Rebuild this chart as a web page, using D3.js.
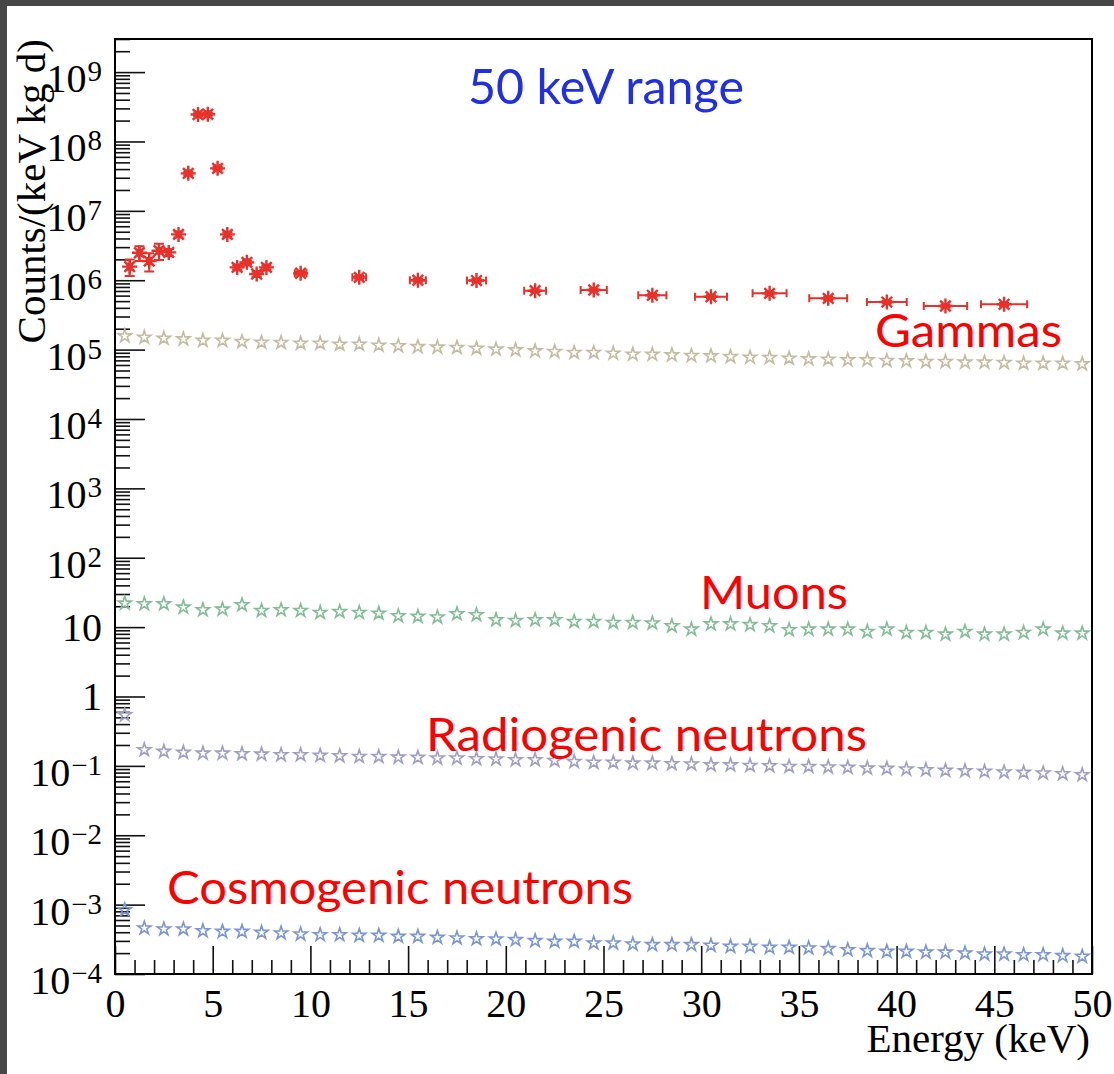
<!DOCTYPE html>
<html>
<head>
<meta charset="utf-8">
<script src="https://cdn.jsdelivr.net/npm/d3@7"></script>
<style>
  body { margin: 0; background: #fff; }
  svg { display: block; }
</style>
</head>
<body>
<svg id="svg" width="1114" height="1074"></svg>
<script>
// bin centres of the simulated spectra (1 keV bins)
var starE = [0.5,1.5,2.5,3.5,4.5,5.5,6.5,7.5,8.5,9.5,10.5,11.5,12.5,13.5,14.5,15.5,16.5,17.5,18.5,19.5,
  20.5,21.5,22.5,23.5,24.5,25.5,26.5,27.5,28.5,29.5,30.5,31.5,32.5,33.5,34.5,35.5,36.5,37.5,38.5,39.5,
  40.5,41.5,42.5,43.5,44.5,45.5,46.5,47.5,48.5,49.5];

var gammaSim = [1.57e5,1.50e5,1.45e5,1.42e5,1.35e5,1.35e5,1.30e5,1.27e5,1.26e5,1.23e5,
  1.23e5,1.19e5,1.19e5,1.15e5,1.13e5,1.10e5,1.08e5,1.07e5,1.04e5,1.01e5,
  9.87e4,9.55e4,9.34e4,9.04e4,9.04e4,8.84e4,8.55e4,8.55e4,8.36e4,8.18e4,
  8.09e4,7.91e4,7.74e4,7.66e4,7.48e4,7.32e4,7.24e4,7.08e4,7.08e4,6.92e4,
  6.85e4,6.70e4,6.70e4,6.56e4,6.56e4,6.48e4,6.34e4,6.34e4,6.34e4,6.20e4];

var muons = [22.1,21.6,21.6,19.3,17.7,18.1,20.9,17.3,17.7,17.3,
  16.2,16.7,16.2,15.8,14.5,14.2,13.9,15.5,15.0,12.7,
  12.4,12.7,12.7,12.0,12.0,11.6,11.6,11.4,10.4,9.31,
  11.1,11.1,10.8,10.4,9.12,9.31,9.31,9.31,8.62,9.31,
  8.34,8.34,7.89,8.62,7.89,7.89,8.34,9.31,8.16,8.16];

var radiogenic = [0.54,0.170,0.161,0.156,0.152,0.152,0.149,0.147,0.144,0.144,
  0.141,0.139,0.136,0.136,0.133,0.132,0.129,0.129,0.126,0.125,
  0.122,0.122,0.119,0.115,0.112,0.112,0.109,0.109,0.107,0.106,
  0.103,0.103,0.101,0.100,0.0977,0.0977,0.0957,0.0946,0.0925,0.0916,
  0.0896,0.0876,0.0857,0.0848,0.0828,0.0811,0.0802,0.0784,0.0767,0.0742];

var cosmogenic = [8.4e-4,4.58e-4,4.43e-4,4.43e-4,4.19e-4,4.10e-4,4.10e-4,3.96e-4,3.88e-4,3.75e-4,
  3.67e-4,3.67e-4,3.59e-4,3.59e-4,3.47e-4,3.47e-4,3.36e-4,3.29e-4,3.21e-4,3.18e-4,
  3.11e-4,3.01e-4,2.94e-4,2.94e-4,2.79e-4,2.79e-4,2.69e-4,2.64e-4,2.64e-4,2.64e-4,
  2.58e-4,2.49e-4,2.49e-4,2.41e-4,2.41e-4,2.36e-4,2.31e-4,2.23e-4,2.16e-4,2.11e-4,
  2.11e-4,2.06e-4,2.06e-4,2.00e-4,1.93e-4,1.93e-4,1.89e-4,1.89e-4,1.83e-4,1.79e-4];

// measured gamma spectrum
var gammaE = [0.75,1.25,1.75,2.25,2.75,3.25,3.75,4.25,4.75,5.25,5.75,6.25,6.75,7.25,7.75,
  9.5,12.5,15.5,18.5,21.5,24.5,27.5,30.5,33.5,36.5,39.5,42.5,45.5];
var gammaV = [1.57e6,2.49e6,1.89e6,2.66e6,2.52e6,4.58e6,3.47e7,2.45e8,2.47e8,4.1e7,4.58e6,1.53e6,1.81e6,1.23e6,1.53e6,
  1.26e6,1.10e6,1.0e6,0.99e6,7.06e5,7.23e5,6.06e5,5.78e5,6.47e5,5.48e5,4.85e5,4.25e5,4.5e5];
var gammaErrY = [0.42e6,0.6e6,0.55e6,0.7e6,0.3e6,0.4e6,2e6,1e7,1e7,2e6,0.3e6,0.1e6,0.1e6,0.1e6,0.1e6,
  0.06e6,0.05e6,0.05e6,0.05e6,0.3e5,0.3e5,0.3e5,0.3e5,0.3e5,0.3e5,0.2e5,0.2e5,0.2e5];
var gammaErrX = [0.1,0.1,0.1,0.1,0.1,0.1,0.1,0.1,0.1,0.1,0.1,0.1,0.1,0.1,0.1,
  0.3,0.35,0.41,0.49,0.56,0.67,0.72,0.82,0.87,0.97,1.02,1.11,1.18];

var xTicks = [0,5,10,15,20,25,30,35,40,45,50];
var yExp = [-4,-3,-2,-1,0,1,2,3,4,5,6,7,8,9];

var series = [
  { vals: gammaSim, color: "#c2bd9f" },
  { vals: muons, color: "#82bd98" },
  { vals: radiogenic, color: "#9f9fc6" },
  { vals: cosmogenic, color: "#7a97d2" }
];

var notes = [
  { text: "50 keV range", x: 468, y: 104, w: 276, size: 49, color: "#1f2fe6" },
  { text: "Gammas", x: 875, y: 347, w: 187, size: 46, color: "#ff0000" },
  { text: "Muons", x: 700, y: 609, w: 148, size: 46, color: "#ff0000" },
  { text: "Radiogenic neutrons", x: 426, y: 751, w: 441, size: 46, color: "#ff0000" },
  { text: "Cosmogenic neutrons", x: 167, y: 904, w: 466, size: 46, color: "#ff0000" }
];

var svg = d3.select("#svg");
var serif = "'Liberation Serif', 'Times New Roman', serif";

svg.append("rect").attr("width", 1114).attr("height", 1074).attr("fill", "#474747");
svg.append("rect").attr("x", 7).attr("y", 6).attr("width", 1107).attr("height", 1068).attr("fill", "#fff");

var x = d3.scaleLinear().domain([0, 50]).range([115, 1092]);
var y = d3.scaleLog().domain([1e-4, 3e9]).range([974, 39]);

// y ticks (inside the frame)
var allY = y.ticks(40);
var majorY = yExp.map(function (k) { return Math.pow(10, k); });
var minorY = allY.filter(function (v) {
  var l = Math.log10(v);
  return Math.abs(l - Math.round(l)) > 1e-6;
});
var yMinG = svg.append("g").attr("transform", "translate(115,0)")
  .call(d3.axisRight(y).tickValues(minorY).tickSize(15).tickFormat(""));
var yMajG = svg.append("g").attr("transform", "translate(115,0)")
  .call(d3.axisRight(y).tickValues(majorY).tickSize(30).tickFormat(""));

// x ticks
var minorX = d3.range(0, 51).filter(function (v) { return v % 5 != 0; });
var xMinG = svg.append("g").attr("transform", "translate(0,974)")
  .call(d3.axisTop(x).tickValues(minorX).tickSize(14).tickFormat(""));
var xMajG = svg.append("g").attr("transform", "translate(0,974)")
  .call(d3.axisTop(x).tickValues(xTicks).tickSize(28).tickFormat(""));
var xLab = svg.append("g").attr("transform", "translate(0,974)")
  .call(d3.axisBottom(x).tickValues(xTicks).tickSize(0).tickPadding(15).tickFormat(d3.format("d")));

[yMinG, yMajG, xMinG, xMajG, xLab].forEach(function (g) {
  g.select(".domain").remove();
  g.selectAll("line").attr("stroke", "#111").attr("stroke-width", 1.6);
});
xLab.selectAll("text").attr("font-family", serif).attr("font-size", 40).attr("fill", "#000");

// y tick labels 10^n
yExp.forEach(function (k) {
  var v = Math.pow(10, k);
  var t = svg.append("text")
    .attr("x", 102)
    .attr("text-anchor", "end")
    .attr("font-family", serif)
    .attr("font-size", 40)
    .attr("fill", "#000");
  if (k == 0 || k == 1) {
    t.attr("y", y(v) + 14).text(k == 0 ? "1" : "10");
  } else {
    t.attr("y", y(v) + 20);
    t.append("tspan").text("10");
    t.append("tspan").attr("font-size", 29).attr("dy", -11).attr("dx", 1)
      .text(k < 0 ? "\u2212" + (-k) : String(k));
  }
});

// simulated spectra: open stars
var star = d3.symbol().type(d3.symbolStar).size(54);
series.forEach(function (s) {
  svg.append("g").selectAll("path")
    .data(starE.map(function (e, i) { return [e, s.vals[i]]; }))
    .join("path")
    .attr("d", star)
    .attr("transform", function (d) { return "translate(" + x(d[0]) + "," + y(d[1]) + ")"; })
    .attr("fill", "none")
    .attr("stroke", s.color)
    .attr("stroke-width", 1.6);
});

// measured gammas: error bars + asterisks
var red = "#e8312a";
var gData = gammaE.map(function (e, i) {
  return { e: e, v: gammaV[i], ex: gammaErrX[i], ey: gammaErrY[i] };
});
var eb = svg.append("g").attr("stroke", red).attr("stroke-width", 2).attr("fill", "none");
gData.forEach(function (d) {
  var cx = x(d.e), cy = y(d.v);
  var y1 = y(d.v + d.ey), y2 = y(Math.max(d.v - d.ey, 1e-4));
  var x1 = x(d.e - d.ex), x2 = x(d.e + d.ex);
  eb.append("path").attr("d",
    "M" + cx + "," + y1 + "V" + y2 +
    "M" + (cx - 5) + "," + y1 + "H" + (cx + 5) +
    "M" + (cx - 5) + "," + y2 + "H" + (cx + 5) +
    "M" + x1 + "," + cy + "H" + x2 +
    "M" + x1 + "," + (cy - 4) + "V" + (cy + 4) +
    "M" + x2 + "," + (cy - 4) + "V" + (cy + 4));
});
svg.append("g").selectAll("path")
  .data(gData)
  .join("path")
  .attr("d", "M-7.5,0H7.5M0,-7.5V7.5M-5.3,-5.3L5.3,5.3M-5.3,5.3L5.3,-5.3")
  .attr("transform", function (d) { return "translate(" + x(d.e) + "," + y(d.v) + ")"; })
  .attr("stroke", red)
  .attr("stroke-width", 2.4)
  .attr("fill", "none");
svg.append("g").selectAll("circle")
  .data(gData)
  .join("circle")
  .attr("cx", function (d) { return x(d.e); })
  .attr("cy", function (d) { return y(d.v); })
  .attr("r", 2.6)
  .attr("fill", red);

// frame
svg.append("rect")
  .attr("x", 115).attr("y", 39).attr("width", 977).attr("height", 935)
  .attr("fill", "none").attr("stroke", "#000").attr("stroke-width", 2);

// axis titles
svg.append("text")
  .attr("transform", "translate(45,39) rotate(-90)")
  .attr("text-anchor", "end")
  .attr("font-family", serif)
  .attr("font-size", 41)
  .text("Counts/(keV kg d)");
svg.append("text")
  .attr("x", 1090).attr("y", 1052)
  .attr("text-anchor", "end")
  .attr("font-family", serif)
  .attr("font-size", 41)
  .text("Energy (keV)");

// annotations
notes.forEach(function (n) {
  svg.append("text")
    .attr("x", n.x).attr("y", n.y)
    .attr("font-family", "Lato, 'Open Sans', sans-serif")
    .attr("font-size", n.size)
    .attr("fill", n.color)
    .attr("textLength", n.w)
    .attr("lengthAdjust", "spacingAndGlyphs")
    .text(n.text);
});
</script>
</body>
</html>
